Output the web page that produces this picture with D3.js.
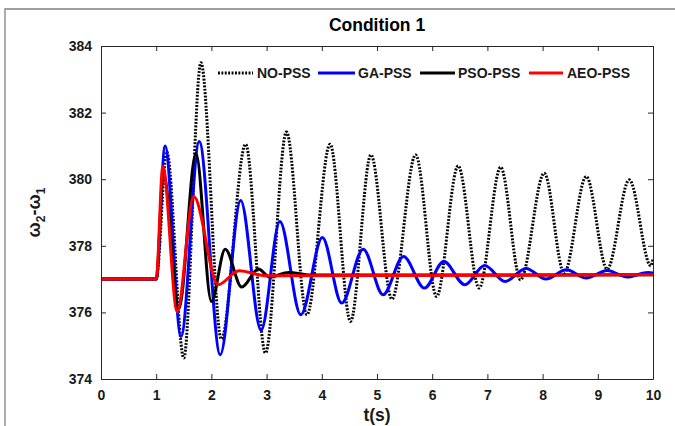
<!DOCTYPE html>
<html>
<head>
<meta charset="utf-8">
<script src="https://cdn.jsdelivr.net/npm/d3@7"></script>
<style>
  html, body { margin: 0; padding: 0; background: #fff; }
  svg { display: block; font-family: "Liberation Sans", Arial, sans-serif; }
</style>
</head>
<body>
<svg id="chart" width="675" height="426"></svg>
<script>
// ---- Data (turning points of each response) ----
const seriesNames = ["NO-PSS", "GA-PSS", "PSO-PSS", "AEO-PSS"];
const xTicks = [0, 1, 2, 3, 4, 5, 6, 7, 8, 9, 10];
const yTicks = [374, 376, 378, 380, 382, 384];

const noPssT = [0, 1, 1.19, 1.5, 1.81, 2.18, 2.62, 2.98, 3.36, 3.73, 4.15, 4.52, 4.89, 5.27, 5.7, 6.08, 6.47, 6.85, 7.24, 7.6, 8.03, 8.39, 8.79, 9.17, 9.57, 9.96, 10];
const noPssY = [377, 377, 380.83, 374.63, 383.5, 375.2, 381.05, 374.78, 381.42, 375.93, 381.05, 375.73, 380.73, 376.4, 380.73, 376.48, 380.4, 376.73, 380.36, 376.98, 380.18, 377.18, 380.08, 377.3, 379.98, 377.4, 377.6];

const gaT = [0, 1, 1.16, 1.45, 1.78, 2.16, 2.53, 2.9, 3.24, 3.62, 4.01, 4.36, 4.75, 5.11, 5.48, 5.86, 6.21, 6.59, 6.95, 7.32, 7.7, 8.06, 8.43, 8.79, 9.17, 9.53, 9.91, 10];
const gaY = [377, 377, 381.0, 375.28, 381.13, 374.73, 379.36, 375.46, 378.73, 375.93, 378.25, 376.28, 377.9, 376.53, 377.68, 376.73, 377.53, 376.83, 377.41, 376.93, 377.32, 377.0, 377.28, 377.03, 377.26, 377.06, 377.2, 377.18];

const psoT = [0, 1, 1.13, 1.41, 1.72, 2.0, 2.25, 2.55, 2.85, 3.06, 3.4, 3.8, 10];
const psoY = [377, 377, 380.2, 376.1, 380.78, 376.33, 377.9, 376.76, 377.3, 377.06, 377.2, 377.12, 377.13];

const aeoT = [0, 1, 1.12, 1.38, 1.68, 2.12, 2.5, 3.0, 10];
const aeoY = [377, 377, 380.38, 376.03, 379.48, 376.83, 377.25, 377.1, 377.13];

const seriesColors = ["#000000", "#0000ff", "#000000", "#ff0000"];

// ---- Layout ----
const svg = d3.select("#chart");
const W = 675, H = 426;
const margin = { left: 101, right: 22, top: 46, bottom: 47 };
const plotW = W - margin.left - margin.right;   // 552
const plotH = H - margin.top - margin.bottom;   // 333

const x = d3.scaleLinear().domain([0, 10]).range([margin.left, margin.left + plotW]);
const y = d3.scaleLinear().domain([374, 384]).range([margin.top + plotH, margin.top]);

// outer figure frame (partially visible)
svg.append("path")
  .attr("d", `M5,${H} L5,9 L${W},9`)
  .attr("fill", "none").attr("stroke", "#808080").attr("stroke-width", 1.3);

// title
svg.append("text")
  .attr("x", margin.left + plotW / 2).attr("y", 31)
  .attr("text-anchor", "middle")
  .attr("font-size", 17.5).attr("font-weight", "bold").attr("fill", "#000")
  .text("Condition 1");

// clip
svg.append("defs").append("clipPath").attr("id", "clip")
  .append("rect").attr("x", margin.left).attr("y", margin.top - 2)
  .attr("width", plotW).attr("height", plotH + 4);

// series
const series = [
  { name: seriesNames[0], t: noPssT, v: noPssY, color: seriesColors[0], dash: "1.9,1.5" },
  { name: seriesNames[1], t: gaT, v: gaY, color: seriesColors[1], dash: null },
  { name: seriesNames[2], t: psoT, v: psoY, color: seriesColors[2], dash: null },
  { name: seriesNames[3], t: aeoT, v: aeoY, color: seriesColors[3], dash: null }
];

const line = d3.line()
  .x(d => x(d[0])).y(d => y(d[1]))
  .curve(d3.curveMonotoneX);

const g = svg.append("g").attr("clip-path", "url(#clip)");
series.forEach(s => {
  const pts = s.t.map((t, i) => [t, s.v[i]]);
  g.append("path")
    .datum(pts)
    .attr("d", line)
    .attr("fill", "none")
    .attr("stroke", s.color)
    .attr("stroke-width", 3)
    .attr("stroke-linejoin", "round")
    .attr("stroke-dasharray", s.dash);
});

// axes (box with inward ticks)
const axisColor = "#262626";
const tickLen = 5;
const axG = svg.append("g");
const xAxisB = d3.axisBottom(x).tickValues(xTicks).tickSizeInner(-tickLen).tickSizeOuter(0).tickPadding(11).tickFormat(d3.format("d"));
const xAxisT = d3.axisTop(x).tickValues(xTicks).tickSizeInner(-tickLen).tickSizeOuter(0).tickFormat("");
const yAxisL = d3.axisLeft(y).tickValues(yTicks).tickSizeInner(-tickLen).tickSizeOuter(0).tickPadding(9).tickFormat(d3.format("d"));
const yAxisR = d3.axisRight(y).tickValues(yTicks).tickSizeInner(-tickLen).tickSizeOuter(0).tickFormat("");

function styleAxis(sel) {
  sel.select(".domain").attr("stroke", axisColor).attr("stroke-width", 1);
  sel.selectAll(".tick line").attr("stroke", axisColor).attr("stroke-width", 1);
  sel.selectAll(".tick text").attr("fill", "#1a1a1a").attr("font-size", 14)
    .attr("font-weight", "bold").attr("font-family", "Liberation Sans, Arial, sans-serif");
}
axG.append("g").attr("transform", `translate(0,${margin.top + plotH})`).call(xAxisB).call(styleAxis);
axG.append("g").attr("transform", `translate(0,${margin.top})`).call(xAxisT).call(styleAxis);
axG.append("g").attr("transform", `translate(${margin.left},0)`).call(yAxisL).call(styleAxis);
axG.append("g").attr("transform", `translate(${margin.left + plotW},0)`).call(yAxisR).call(styleAxis);

// x label
svg.append("text")
  .attr("x", margin.left + plotW / 2).attr("y", 421)
  .attr("text-anchor", "middle")
  .attr("font-size", 17.5).attr("font-weight", "bold").attr("fill", "#1a1a1a")
  .text("t(s)");

// y label with subscripts
const yl = svg.append("text")
  .attr("transform", `translate(40,${margin.top + plotH / 2}) rotate(-90)`)
  .attr("text-anchor", "middle")
  .attr("font-size", 18).attr("font-weight", "bold").attr("fill", "#1a1a1a");
yl.append("tspan").text("ω");
yl.append("tspan").attr("font-size", 12).attr("dy", 5).text("2");
yl.append("tspan").attr("dy", -5).text("-ω");
yl.append("tspan").attr("font-size", 12).attr("dy", 5).text("1");

// legend
const legendY = 73;
const legendItems = [
  { x1: 218, x2: 253, tx: 257 },
  { x1: 318, x2: 355, tx: 358 },
  { x1: 420, x2: 455, tx: 458 },
  { x1: 529, x2: 563, tx: 567 }
];
const lg = svg.append("g");
series.forEach((s, i) => {
  const it = legendItems[i];
  lg.append("line")
    .attr("x1", it.x1).attr("x2", it.x2).attr("y1", legendY).attr("y2", legendY)
    .attr("stroke", s.color).attr("stroke-width", 3)
    .attr("stroke-dasharray", s.dash);
  lg.append("text")
    .attr("x", it.tx).attr("y", legendY + 5)
    .attr("font-size", 14).attr("font-weight", "bold").attr("fill", "#1a1a1a")
    .text(s.name);
});
</script>
</body>
</html>
